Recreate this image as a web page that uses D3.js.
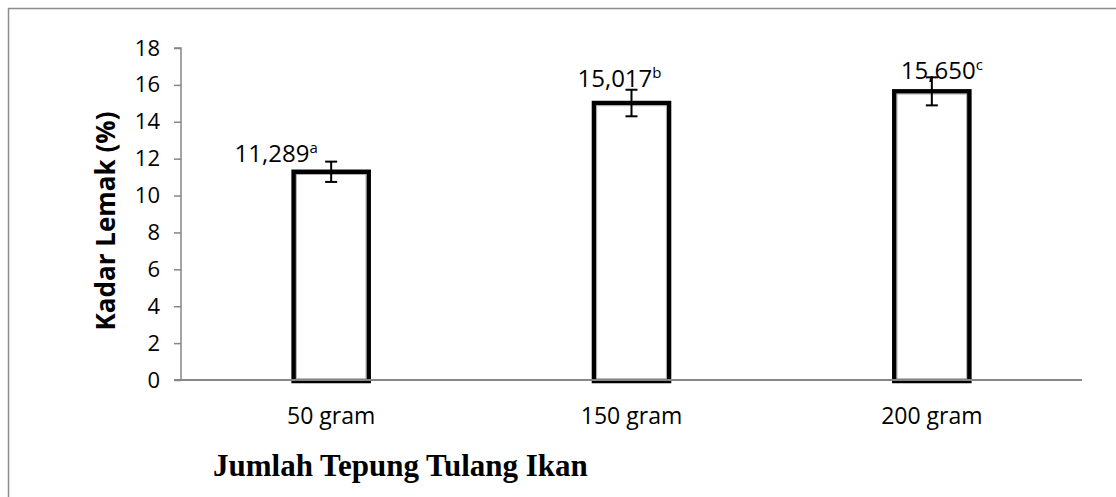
<!DOCTYPE html>
<html>
<head>
<meta charset="utf-8">
<script src="https://cdn.jsdelivr.net/npm/d3@7"></script>
<style>
  html, body { margin: 0; padding: 0; background: #fff; }
  svg { display: block; }
</style>
</head>
<body>
<svg id="chart" width="1116" height="497"></svg>
<script>
// ---- data ----
const categories = ["50 gram", "150 gram", "200 gram"];
const values = [11.289, 15.017, 15.650];
const errors = [0.55, 0.72, 0.76];
const valueLabels = ["11,289", "15,017", "15,650"];
const superscripts = ["a", "b", "c"];
const yTicks = [0, 2, 4, 6, 8, 10, 12, 14, 16, 18];
const yTitle = "Kadar Lemak (%)";
const xTitle = "Jumlah Tepung Tulang Ikan";

// ---- layout ----
const W = 1116, H = 497;
const plot = { left: 181, right: 1082, top: 48, bottom: 380 };
const labelDx = [-55, -12, 10];   // manual label offsets relative to bar centre
const labelDy = [0, -3, 2];
const sansFont = "'Open Sans', 'Noto Sans', sans-serif";
const axisColor = "#868686";

const svg = d3.select("#chart");

// outer frame (top and left edges visible)
svg.append("path")
  .attr("d", `M8.5,${H} L8.5,8.5 L${W},8.5`)
  .attr("fill", "none").attr("stroke", "#8c8c8c").attr("stroke-width", 1.5);

const x = d3.scaleBand().domain(categories).range([plot.left, plot.right]).padding(0);
const y = d3.scaleLinear().domain([0, 18]).range([plot.bottom, plot.top]);
const barW = x.bandwidth() * 0.25;
const cx = c => x(c) + x.bandwidth() / 2;

// y axis
const yAxis = d3.axisLeft(y).tickValues(yTicks).tickSize(7).tickPadding(14).tickFormat(d3.format("d"));
const gy = svg.append("g").attr("transform", `translate(${plot.left},0)`).call(yAxis);
gy.select(".domain").attr("stroke", axisColor).attr("stroke-width", 1.5).attr("d", `M-7,${plot.top}H0V${plot.bottom}`);
gy.selectAll(".tick line").attr("stroke", axisColor).attr("stroke-width", 1.5);
gy.selectAll(".tick text").attr("fill", "#000").style("font-family", sansFont).style("font-size", "22px");

// bars
const bars = svg.append("g");
categories.forEach((c, i) => {
  const top = y(values[i]);
  bars.append("rect")
    .attr("x", cx(c) - barW / 2).attr("y", top)
    .attr("width", barW).attr("height", y(0) - top + 1)
    .attr("fill", "#fff").attr("stroke", "#000").attr("stroke-width", 4.5);
  bars.append("rect")
    .attr("x", cx(c) - barW / 2 + 2.75).attr("y", top + 2.75)
    .attr("width", barW - 5.5).attr("height", y(0) - top - 3.5)
    .attr("fill", "none").attr("stroke", "#a0a0a0").attr("stroke-width", 0.8);
});

// x axis
const xAxis = d3.axisBottom(x).tickSize(0).tickPadding(28);
const gx = svg.append("g").attr("transform", `translate(0,${plot.bottom})`).call(xAxis);
gx.select(".domain").attr("stroke", axisColor).attr("stroke-width", 2).attr("d", `M${plot.left - 7},0H${plot.right}`);
gx.selectAll(".tick text").attr("fill", "#000").style("font-family", sansFont).style("font-size", "23px");

// error bars
const eg = svg.append("g").attr("stroke", "#000").attr("stroke-width", 2);
categories.forEach((c, i) => {
  const xc = cx(c), y1 = y(values[i] + errors[i]), y2 = y(values[i] - errors[i]);
  eg.append("line").attr("x1", xc).attr("x2", xc).attr("y1", y1).attr("y2", y2);
  eg.append("line").attr("x1", xc - 6).attr("x2", xc + 6).attr("y1", y1).attr("y2", y1);
  eg.append("line").attr("x1", xc - 6).attr("x2", xc + 6).attr("y1", y2).attr("y2", y2);
});

// value labels
categories.forEach((c, i) => {
  const t = svg.append("text")
    .attr("x", cx(c) + labelDx[i])
    .attr("y", y(values[i] + errors[i]) + labelDy[i])
    .attr("text-anchor", "middle")
    .style("font-family", sansFont).style("font-size", "24px").attr("fill", "#000");
  t.append("tspan").text(valueLabels[i]);
  t.append("tspan").attr("dy", -9).style("font-size", "15px").text(superscripts[i]);
});

// y title
svg.append("text")
  .attr("transform", `translate(115,221) rotate(-90)`)
  .attr("text-anchor", "middle")
  .style("font-family", sansFont).style("font-weight", "bold").style("font-size", "26px")
  .text(yTitle);

// x title
svg.append("text")
  .attr("x", 213).attr("y", 476)
  .style("font-family", "'Liberation Serif', 'Times New Roman', serif")
  .style("font-weight", "bold").style("font-size", "31px")
  .text(xTitle);
</script>
</body>
</html>
